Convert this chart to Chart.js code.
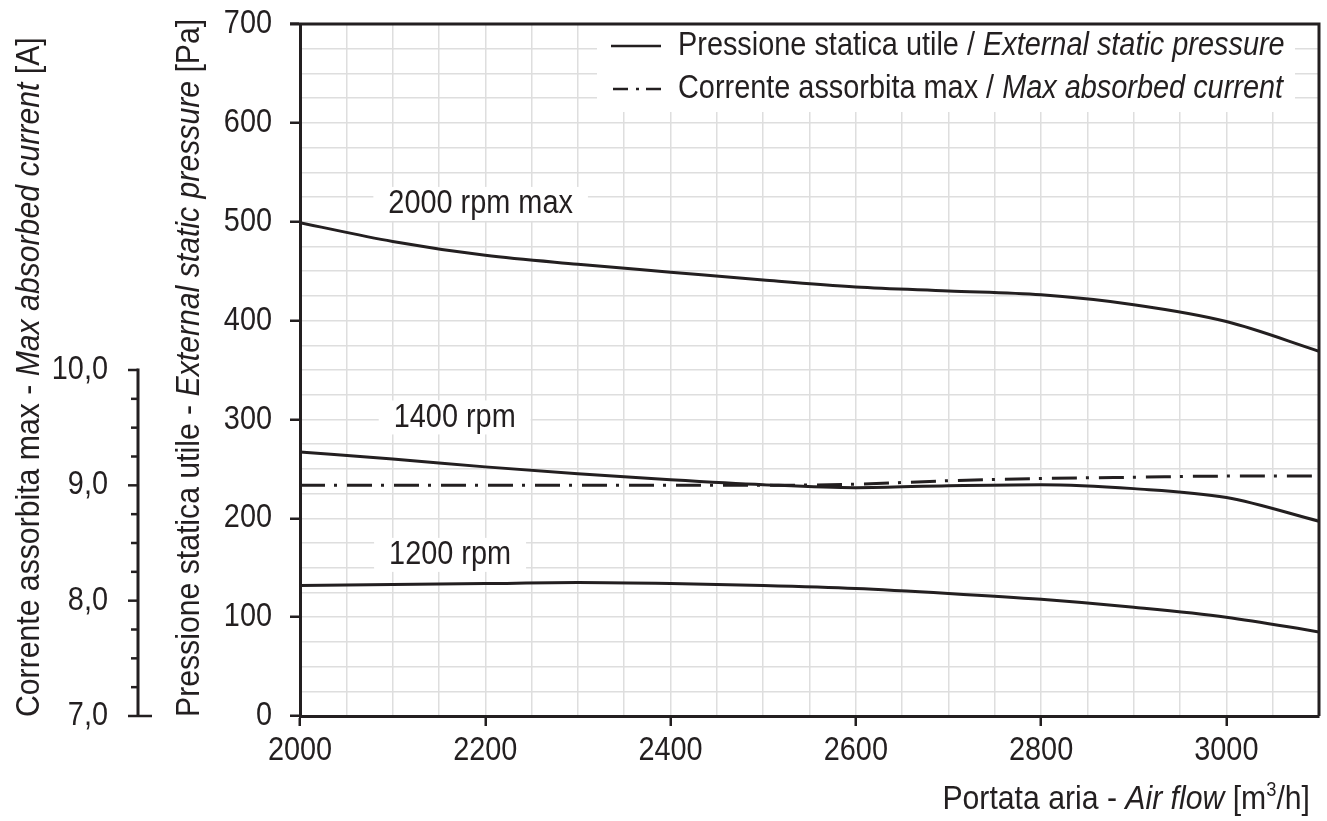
<!DOCTYPE html>
<html>
<head>
<meta charset="utf-8">
<script src="https://cdn.jsdelivr.net/npm/chart.js@4.4.1/dist/chart.umd.min.js"></script>
<style>
  html, body { margin: 0; padding: 0; background: #fff; }
  #wrap { width: 1327px; height: 821px; }
</style>
</head>
<body>
<div id="wrap"><canvas id="fanChart"></canvas></div>
<script>
// curve data: air flow [m3/h] -> external static pressure [Pa]
const flow = [2000, 2100, 2200, 2300, 2400, 2500, 2600, 2700, 2800, 2900, 3000, 3100];
const press2000 = [499, 480, 466, 457, 449, 441, 434, 430, 426, 416, 399, 369];
const press1400 = [267, 260, 252, 245, 239, 234, 231, 233, 234, 230, 221, 197];
const press1200 = [132, 133, 134, 135, 134, 132, 129, 124, 118, 110, 100, 85];
// max absorbed current [A]
const currentMax = [9.00, 9.00, 9.00, 9.00, 9.00, 9.00, 9.01, 9.04, 9.06, 9.07, 9.08, 9.08];

const flowTicks = [2000, 2200, 2400, 2600, 2800, 3000];
const pressTicks = [0, 100, 200, 300, 400, 500, 600, 700];
const currentTicks = [7, 8, 9, 10];

const speedLabels = [
  { text: "2000 rpm max", x: 2195, y: 518 },
  { text: "1400 rpm", x: 2167, y: 302 },
  { text: "1200 rpm", x: 2162, y: 163 }
];

const INK = "#231f20";
const GRID = "#dedede";
const FAMILY = "'Liberation Sans', Arial, sans-serif";
const FS = 33;
const SX = 0.875;       // condensed look
const SX_TITLE = 0.915; // axis titles run a little wider

function pts(ys) {
  return flow.map((f, i) => ({ x: f, y: ys[i] }));
}

function fontFor(p) {
  return (p.italic ? "italic " : "") + (p.sup ? Math.round(FS * 0.62) : FS) + "px " + FAMILY;
}

// draws a run of text pieces (some italic), horizontally condensed
function drawParts(ctx, parts, x, y, align, sx) {
  sx = sx || SX;
  let total = 0;
  parts.forEach(p => { ctx.font = fontFor(p); total += ctx.measureText(p.t).width; });
  ctx.save();
  ctx.translate(x, y);
  ctx.scale(sx, 1);
  let cx = align === "right" ? -total : align === "center" ? -total / 2 : 0;
  ctx.textAlign = "left";
  ctx.textBaseline = "middle";
  parts.forEach(p => {
    ctx.font = fontFor(p);
    ctx.fillText(p.t, cx, p.sup ? -FS * 0.3 : 0);
    cx += ctx.measureText(p.t).width;
  });
  ctx.restore();
  return total * sx;
}

function textWidth(ctx, s) {
  ctx.font = FS + "px " + FAMILY;
  return ctx.measureText(s).width * SX;
}

const decor = {
  id: "decor",
  beforeDatasetsDraw(chart) {
    const { ctx, scales } = chart;
    const x = scales.x, y = scales.y;
    ctx.save();
    ctx.fillStyle = "#fff";
    // legend background
    ctx.fillRect(597, chart.chartArea.top, 698, 88);
    // speed label backgrounds
    speedLabels.forEach(l => {
      const px = x.getPixelForValue(l.x), py = y.getPixelForValue(l.y);
      const w = textWidth(ctx, l.text) + 30;
      ctx.fillRect(px - w / 2, py - 17, w, 34);
    });
    ctx.restore();
  },
  afterDatasetsDraw(chart) {
    const { ctx, chartArea, scales } = chart;
    const x = scales.x, y = scales.y, yA = scales.yA;
    ctx.save();
    ctx.strokeStyle = INK;
    ctx.fillStyle = INK;

    // frame top and right
    ctx.lineWidth = 3;
    ctx.beginPath();
    ctx.moveTo(chartArea.left - 10, chartArea.top);
    ctx.lineTo(chartArea.right, chartArea.top);
    ctx.lineTo(chartArea.right, chartArea.bottom);
    ctx.stroke();

    // tick labels
    flowTicks.forEach(v => drawParts(ctx, [{ t: String(v) }], x.getPixelForValue(v), 751, "center"));
    pressTicks.forEach(v => drawParts(ctx, [{ t: String(v) }], 272, y.getPixelForValue(v), "right"));

    // speed labels
    speedLabels.forEach(l => {
      drawParts(ctx, [{ t: l.text }], x.getPixelForValue(l.x), y.getPixelForValue(l.y), "center");
    });

    // legend
    ctx.lineWidth = 2.5;
    ctx.beginPath();
    ctx.moveTo(611, 46);
    ctx.lineTo(661, 46);
    ctx.stroke();
    ctx.beginPath();
    ctx.moveTo(613, 89); ctx.lineTo(628, 89);
    ctx.moveTo(636, 89); ctx.lineTo(639, 89);
    ctx.moveTo(646, 89); ctx.lineTo(661, 89);
    ctx.stroke();
    drawParts(ctx, [{ t: "Pressione statica utile / " }, { t: "External static pressure", italic: true }], 678, 46);
    drawParts(ctx, [{ t: "Corrente assorbita max / " }, { t: "Max absorbed current", italic: true }], 678, 89);

    // x axis title
    drawParts(ctx, [{ t: "Portata aria - " }, { t: "Air flow", italic: true }, { t: " [m" }, { t: "3", sup: true }, { t: "/h]" }],
      1310, 800, "right", SX_TITLE);

    // rotated axis titles
    [[30, [{ t: "Corrente assorbita max - " }, { t: "Max absorbed current", italic: true }, { t: " [A]" }]],
     [190, [{ t: "Pressione statica utile - " }, { t: "External static pressure", italic: true }, { t: " [Pa]" }]]]
      .forEach(([tx, parts]) => {
        ctx.save();
        ctx.translate(tx, chartArea.bottom + 1);
        ctx.rotate(-Math.PI / 2);
        drawParts(ctx, parts, 0, 0, "left", SX_TITLE);
        ctx.restore();
      });

    // current axis, drawn on its own scale
    const ax = 138;
    const lo = currentTicks[0], hi = currentTicks[currentTicks.length - 1];
    ctx.lineWidth = 3;
    ctx.beginPath();
    ctx.moveTo(ax, yA.getPixelForValue(hi) - 1.5);
    ctx.lineTo(ax, yA.getPixelForValue(lo));
    ctx.stroke();
    ctx.lineWidth = 2.5;
    for (let v = lo; v <= hi + 1e-9; v += 0.25) {
      const py = yA.getPixelForValue(v);
      const major = currentTicks.includes(v);
      ctx.beginPath();
      ctx.moveTo(major ? ax - 10 : ax - 7, py);
      ctx.lineTo(v === lo ? ax + 14 : ax, py);
      ctx.stroke();
    }
    currentTicks.forEach(v => {
      drawParts(ctx, [{ t: v.toFixed(1).replace(".", ",") }], 108, yA.getPixelForValue(v), "right");
    });
    ctx.restore();
  }
};

const lineStyle = {
  borderColor: INK,
  borderWidth: 3,
  pointRadius: 0,
  fill: false,
  cubicInterpolationMode: "monotone"
};

new Chart(document.getElementById("fanChart"), {
  type: "line",
  data: {
    datasets: [
      { label: "2000 rpm max", data: pts(press2000), yAxisID: "y", ...lineStyle },
      { label: "1400 rpm", data: pts(press1400), yAxisID: "y", ...lineStyle },
      { label: "1200 rpm", data: pts(press1200), yAxisID: "y", ...lineStyle },
      { label: "Corrente", data: pts(currentMax), yAxisID: "yA", ...lineStyle,
        borderDash: [25, 9, 3, 10], borderCapStyle: "butt" }
    ]
  },
  options: {
    responsive: true,
    maintainAspectRatio: false,
    animation: false,
    layout: { padding: { top: 24, right: 8, left: 0, bottom: 0 } },
    plugins: { legend: { display: false }, tooltip: { enabled: false } },
    scales: {
      x: {
        type: "linear",
        min: 2000,
        max: 3100,
        afterFit: s => { s.height = 105; },
        ticks: { display: false, stepSize: 50, autoSkip: false },
        grid: {
          color: GRID,
          lineWidth: 1.5,
          tickLength: 10,
          tickWidth: 2.5,
          tickColor: c => flowTicks.includes(c.tick && c.tick.value) ? INK : "rgba(0,0,0,0)"
        },
        border: { color: INK, width: 3 }
      },
      y: {
        min: 0,
        max: 700,
        afterFit: s => { s.width = 300; },
        ticks: { display: false, stepSize: 25, autoSkip: false },
        grid: {
          color: GRID,
          lineWidth: 1.5,
          tickLength: 10,
          tickWidth: 2.5,
          tickColor: c => pressTicks.includes(c.tick && c.tick.value) ? INK : "rgba(0,0,0,0)"
        },
        border: { color: INK, width: 3 }
      },
      yA: { display: false, min: 7, max: 13 }
    }
  },
  plugins: [decor]
});
</script>
</body>
</html>
